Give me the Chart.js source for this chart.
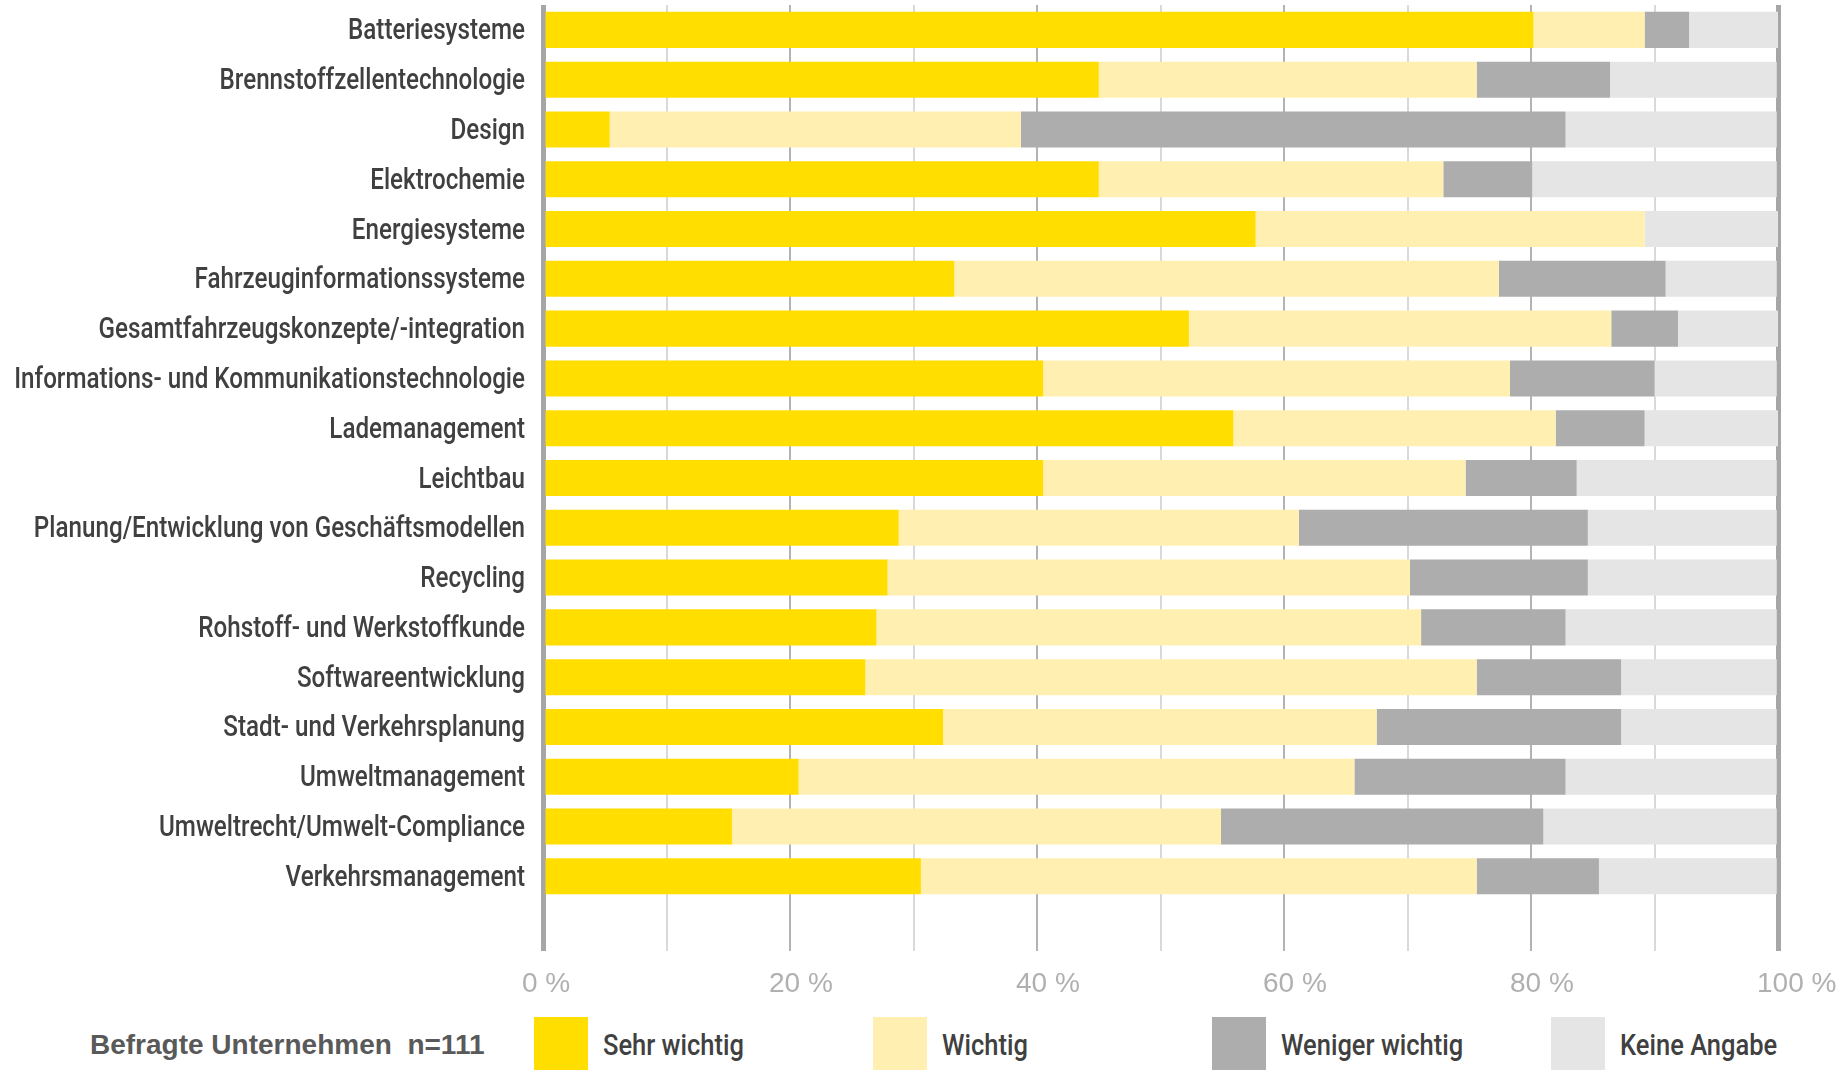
<!DOCTYPE html>
<html>
<head>
<meta charset="utf-8">
<script src="https://cdn.jsdelivr.net/npm/chart.js@4"></script>
<style>
  body { margin: 0; background: #fff; }
  #wrap { position: relative; width: 1841px; height: 1070px; overflow: hidden; }
  #chartBox { position: absolute; left: 0; top: 0; width: 1841px; height: 1007px; }
  #note { position: absolute; left: 90px; top: 1029px; font: bold 28px "Liberation Sans", Arial, sans-serif; color: #595959; white-space: pre; }
  #legend { position: absolute; left: 534px; top: 1017px; display: flex; }
  .item { width: 339px; display: flex; align-items: center; }
  .box { width: 54px; height: 54px; }
  .lab { margin-left: 15px; display: inline-block; transform: scaleX(0.85); transform-origin: left center;
         font: 500 30px Roboto, sans-serif; color: #404040; white-space: nowrap; }
</style>
</head>
<body>
<div id="wrap">
  <div id="chartBox"><canvas id="chart"></canvas></div>
  <div id="note">Befragte Unternehmen  n=111</div>
  <div id="legend"></div>
</div>
<script>
const categories = [
  "Batteriesysteme",
  "Brennstoffzellentechnologie",
  "Design",
  "Elektrochemie",
  "Energiesysteme",
  "Fahrzeuginformationssysteme",
  "Gesamtfahrzeugskonzepte/-integration",
  "Informations- und Kommunikationstechnologie",
  "Lademanagement",
  "Leichtbau",
  "Planung/Entwicklung von Geschäftsmodellen",
  "Recycling",
  "Rohstoff- und Werkstoffkunde",
  "Softwareentwicklung",
  "Stadt- und Verkehrsplanung",
  "Umweltmanagement",
  "Umweltrecht/Umwelt-Compliance",
  "Verkehrsmanagement"
];

// percent of companies (n=111)
const sehrWichtig    = [80.2, 45.0,  5.4, 45.0, 57.7, 33.3, 52.3, 40.5, 55.9, 40.5, 28.8, 27.9, 27.0, 26.1, 32.4, 20.7, 15.3, 30.6];
const wichtig        = [ 9.0, 30.6, 33.3, 27.9, 31.5, 44.1, 34.2, 37.8, 26.1, 34.2, 32.4, 42.3, 44.1, 49.5, 35.1, 45.0, 39.6, 45.0];
const wenigerWichtig = [ 3.6, 10.8, 44.1,  7.2,  0.0, 13.5,  5.4, 11.7,  7.2,  9.0, 23.4, 14.4, 11.7, 11.7, 19.8, 17.1, 26.1,  9.9];
const keineAngabe    = [ 7.2, 13.5, 17.1, 19.8, 10.8,  9.0,  8.1,  9.9, 10.8, 16.2, 15.3, 15.3, 17.1, 12.6, 12.6, 17.1, 18.9, 14.4];

const seriesNames = ["Sehr wichtig", "Wichtig", "Weniger wichtig", "Keine Angabe"];
const seriesColors = ["#FFDE00", "#FFF0B2", "#ADADAD", "#E5E5E5"];
const seriesData = [sehrWichtig, wichtig, wenigerWichtig, keineAngabe];

const datasets = seriesData.map((d, i) => ({
  label: seriesNames[i],
  data: d,
  backgroundColor: seriesColors[i],
  borderWidth: 0,
  barPercentage: 0.724,
  categoryPercentage: 1.0
}));

// category labels in a narrow look (no condensed font installed, so squeeze them)
const squeezedLabels = {
  id: "squeezedLabels",
  afterDraw(chart) {
    const ctx = chart.ctx;
    const yScale = chart.scales.y;
    ctx.save();
    ctx.font = "500 30px Roboto, sans-serif";
    ctx.fillStyle = "#404040";
    ctx.textAlign = "right";
    ctx.textBaseline = "middle";
    categories.forEach((c, i) => {
      ctx.save();
      ctx.translate(chart.chartArea.left - 18, yScale.getPixelForValue(i) + 2);
      ctx.scale(0.807, 1);
      ctx.fillText(c, 0, 0);
      ctx.restore();
    });
    ctx.restore();
  }
};

new Chart(document.getElementById("chart"), {
  type: "bar",
  data: {
    labels: categories.concat([""]),  // empty row keeps space under the last bar
    datasets: datasets
  },
  plugins: [squeezedLabels],
  options: {
    indexAxis: "y",
    responsive: true,
    maintainAspectRatio: false,
    animation: false,
    layout: { padding: { top: 5, right: 63, left: 0, bottom: 0 } },
    plugins: { legend: { display: false }, tooltip: { enabled: false } },
    scales: {
      x: {
        stacked: true,
        min: 0,
        max: 100,
        border: { display: false },
        grid: {
          drawTicks: false,
          color: ctx => {
            const v = ctx.tick ? ctx.tick.value : 0;
            if (v === 0 || v === 100) return "#a6a6a6";
            return v % 20 === 0 ? "#b3b3b3" : "#d9d9d9";
          },
          lineWidth: ctx => {
            const v = ctx.tick ? ctx.tick.value : 0;
            return (v === 0 || v === 100) ? 5 : 2;
          }
        },
        ticks: {
          stepSize: 10,
          autoSkip: false,
          maxRotation: 0,
          align: "start",
          labelOffset: -21,
          padding: 16,
          color: "#b0b0b0",
          font: { family: "'Liberation Sans', Arial, sans-serif", size: 28 },
          callback: v => (v % 20 === 0 ? v + " %" : "")
        },
        afterFit: s => {
          s.height = 56;
          s.paddingLeft = 0;   // labels may run into the outer margins
          s.paddingRight = 0;
        }
      },
      y: {
        stacked: true,
        border: { display: false },
        grid: { display: false, drawTicks: false },
        ticks: { display: false },
        afterFit: s => { s.width = 543; }
      }
    }
  }
});

// legend built from the series
const legend = document.getElementById("legend");
seriesNames.forEach((name, i) => {
  const item = document.createElement("div");
  item.className = "item";
  item.innerHTML = '<div class="box" style="background:' + seriesColors[i] + '"></div><span class="lab">' + name + '</span>';
  legend.appendChild(item);
});
</script>
</body>
</html>
